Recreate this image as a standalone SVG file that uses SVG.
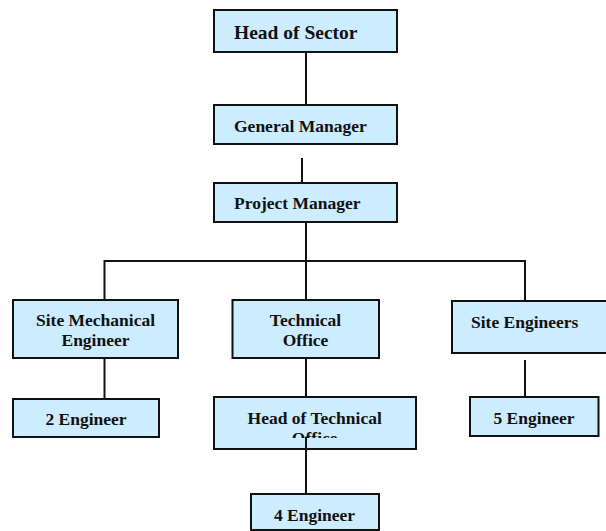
<svg xmlns="http://www.w3.org/2000/svg" width="606" height="531" viewBox="0 0 606 531">
<defs>
<style>
.box{fill:#CCECFF;stroke:#111;stroke-width:2}
.t{font-family:"Liberation Serif","Times New Roman",serif;font-weight:bold;font-size:17.5px;fill:#111}
.c{text-anchor:middle}
.ln{stroke:#111;stroke-width:2;fill:none}
</style>
<clipPath id="hto"><rect x="214" y="397" width="202" height="41"/></clipPath>
</defs>
<rect width="606" height="531" fill="#fff"/>
<g id="connectors">
<line class="ln" x1="306" y1="48" x2="306" y2="105"/>
<line class="ln" x1="302" y1="158" x2="302" y2="183"/>
<line class="ln" x1="306" y1="222" x2="306" y2="300"/>
<polyline class="ln" points="104.5,300 104.5,261 525,261 525,301"/>
<line class="ln" x1="104.5" y1="358" x2="104.5" y2="399"/>
<line class="ln" x1="306" y1="358" x2="306" y2="397"/>
<line class="ln" x1="525" y1="360" x2="525" y2="397"/>
<line class="ln" x1="306" y1="437" x2="306" y2="494"/>
</g>
<g id="head-of-sector">
<rect class="box" x="214" y="10" width="183" height="42"/>
<text class="t" x="234" y="38.5" style="font-size:19.5px">Head of Sector</text>
</g>
<g id="general-manager">
<rect class="box" x="214" y="105" width="183" height="39"/>
<text class="t" x="234" y="131.5">General Manager</text>
</g>
<g id="project-manager">
<rect class="box" x="214" y="183" width="183" height="39"/>
<text class="t" x="234" y="209">Project Manager</text>
</g>
<g id="site-mechanical-engineer">
<rect class="box" x="13" y="300" width="165" height="58"/>
<text class="t c" x="95.5" y="326">Site Mechanical</text>
<text class="t c" x="95.5" y="346">Engineer</text>
</g>
<g id="technical-office">
<rect class="box" x="232.5" y="300" width="146.5" height="58"/>
<text class="t c" x="305.5" y="326">Technical</text>
<text class="t c" x="305.5" y="346">Office</text>
</g>
<g id="site-engineers">
<rect class="box" x="452" y="301" width="156" height="52"/>
<text class="t" x="471" y="328">Site Engineers</text>
</g>
<g id="two-engineer">
<rect class="box" x="13" y="399" width="146" height="38"/>
<text class="t c" x="86" y="425">2 Engineer</text>
</g>
<g id="head-of-technical-office">
<rect class="box" x="214" y="397" width="202" height="52"/>
<g clip-path="url(#hto)">
<text class="t c" x="314.7" y="424.3">Head of Technical</text>
<text class="t c" x="314.7" y="444">Office</text>
</g>
</g>
<g id="five-engineer">
<rect class="box" x="470" y="397" width="128.5" height="39"/>
<text class="t c" x="534" y="424.3">5 Engineer</text>
</g>
<g id="four-engineer">
<rect class="box" x="251" y="494" width="128" height="36"/>
<text class="t c" x="314.5" y="520.5">4 Engineer</text>
</g>
<line class="ln" x1="306" y1="437" x2="306" y2="494"/>
</svg>
